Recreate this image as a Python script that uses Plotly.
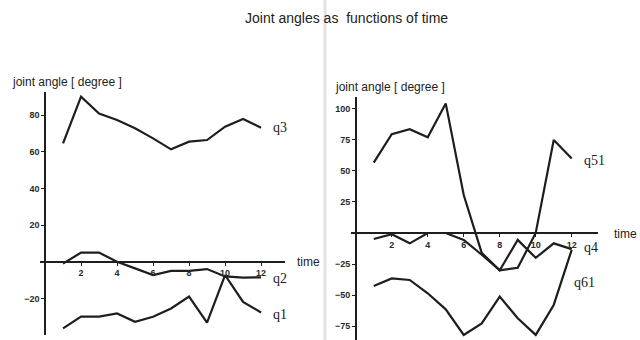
import plotly.graph_objects as go

time = [1, 2, 3, 4, 5, 6, 7, 8, 9, 10, 11, 12]

# left panel
q3 = [64.7, 90.2, 81, 77.4, 72.9, 67.4, 61.4, 65.6, 66.5, 73.8, 78, 73.2]
q2 = [-1, 5, 5, 0, -3.6, -7.3, -5, -5, -4, -8, -8.7, -8.5]
q1 = [-36.4, -30, -30, -28.2, -32.8, -30, -25.5, -19, -33.3, -7.3, -21.9, -27.7]

# right panel
q51 = [56.6, 79.6, 83.6, 77, 104.3, 30.6, -16, -30, -28, 0, 74.8, 60]
q4 = [-4.8, -1, -8.3, 0, 0, -5.6, -17.5, -30, -5.5, -20, -8.3, -13]
q61 = [-42.6, -36.5, -37.8, -48.5, -61.4, -82, -72.7, -51.2, -68.6, -82, -57.9, -13.5]

xticks = [2, 4, 6, 8, 10, 12]
left_yticks = [-20, 20, 40, 60, 80]
right_yticks = [-75, -50, -25, 25, 50, 75, 100]

W, H = 640, 340
LINE = "#1e1e1e"

fig = go.Figure()
for name, ys in [("q3", q3), ("q2", q2), ("q1", q1)]:
    fig.add_trace(go.Scatter(x=time, y=ys, mode="lines", name=name,
                             line=dict(color=LINE, width=2.2), xaxis="x", yaxis="y"))
for name, ys in [("q51", q51), ("q4", q4), ("q61", q61)]:
    fig.add_trace(go.Scatter(x=time, y=ys, mode="lines", name=name,
                             line=dict(color=LINE, width=2.2), xaxis="x2", yaxis="y2"))

# panel geometry (pixels)
L_xdom = [40 / W, 285 / W]
L_xrng = [-0.28, 13.33]
L_ydom = [5 / H, (H - 91.7) / H]
L_yrng = [-40, 92.9]
R_xdom = [350.7 / W, 598 / W]
R_xrng = [-0.28, 13.46]
R_ydom = [0.0, (H - 96.7) / H]
R_yrng = [-86.1, 109.7]


def frac(dom, rng, v):
    return dom[0] + (dom[1] - dom[0]) * (v - rng[0]) / (rng[1] - rng[0])


tickfont = dict(family="Liberation Sans, Arial", size=9, color="#2a2a2a", weight="bold")
common_x = dict(showgrid=False, zeroline=False, showline=True, linecolor=LINE, linewidth=1.5,
                ticks="outside", ticklen=3, tickcolor=LINE, tickvals=xticks,
                tickfont=tickfont, anchor="free")
common_y = dict(showgrid=False, zeroline=False, showline=True, linecolor=LINE, linewidth=1.5,
                ticks="outside", ticklen=3, tickcolor=LINE,
                tickfont=tickfont, anchor="free")

fig.update_layout(
    width=W, height=H, margin=dict(l=0, r=0, t=0, b=0),
    paper_bgcolor="white", plot_bgcolor="rgba(0,0,0,0)",
    showlegend=False,
    xaxis=dict(domain=L_xdom, range=L_xrng, position=frac(L_ydom, L_yrng, 0), **common_x),
    yaxis=dict(domain=L_ydom, range=L_yrng, position=frac(L_xdom, L_xrng, 0),
               tickvals=left_yticks, **common_y),
    xaxis2=dict(domain=R_xdom, range=R_xrng, position=frac(R_ydom, R_yrng, 0), **common_x),
    yaxis2=dict(domain=R_ydom, range=R_yrng, position=frac(R_xdom, R_xrng, 0),
                tickvals=right_yticks, **common_y),
)

# faint fold line of the scanned page
fig.add_shape(type="line", xref="paper", yref="paper", x0=325 / W, x1=325 / W, y0=0, y1=1,
              line=dict(color="#e2e2e2", width=3), layer="below")

sans = "Liberation Sans, Arial"
serif = "Liberation Serif, Times New Roman"
txt = "#222"


def paper_text(text, x, y, size, xanchor="left", family=sans):
    fig.add_annotation(text=text, xref="paper", yref="paper", x=x / W, y=(H - y) / H,
                       xanchor=xanchor, yanchor="middle", showarrow=False,
                       font=dict(family=family, size=size, color=txt))


paper_text("Joint angles as\u00a0 functions of time", 346, 18, 14, xanchor="center")
paper_text("joint angle [ degree ]", 10, 82, 12)
paper_text("joint angle [ degree ]", 333, 87, 12)
paper_text("time", 295, 262, 12)
paper_text("time", 612, 234, 12)

lab_font = dict(family=serif, size=14, color=txt)
for name, ys, dy in [("q3", q3, 0), ("q2", q2, -1), ("q1", q1, -2)]:
    fig.add_annotation(text=name, xref="x", yref="y", x=time[-1], y=ys[-1], xanchor="left",
                       yanchor="middle", xshift=10, yshift=dy, showarrow=False, font=lab_font)
for name, ys, dy in [("q51", q51, -2), ("q4", q4, 2)]:
    fig.add_annotation(text=name, xref="x2", yref="y2", x=time[-1], y=ys[-1], xanchor="left",
                       yanchor="middle", xshift=10, yshift=dy, showarrow=False, font=lab_font)
fig.add_annotation(text="q61", xref="x2", yref="y2", x=time[-1], y=-39.5, xanchor="left",
                   yanchor="middle", xshift=0, showarrow=False, font=lab_font)

fig.write_html("out.html", config={"displayModeBar": False},
               post_script="document.body.style.margin='0';")
